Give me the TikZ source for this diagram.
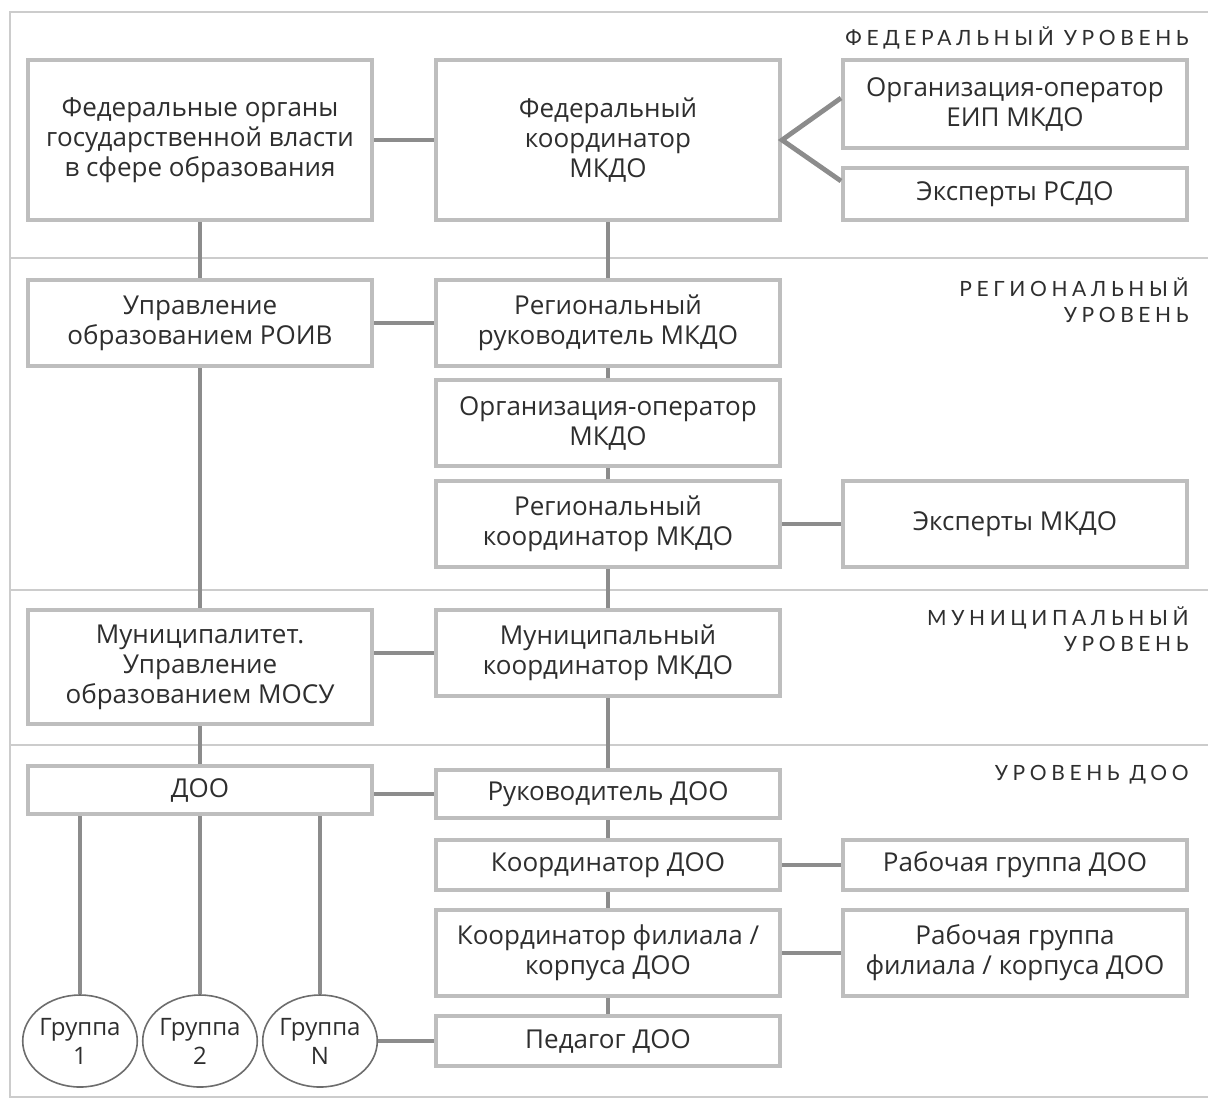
\documentclass[tikz,border=0pt]{standalone}
\usepackage{fontspec}
\setmainfont{Open Sans}
\newfontfamily\levelfont[LetterSpace=22]{Lato}
\usepackage{tikz}
\usetikzlibrary{positioning, shapes.geometric}
\usepackage{xcolor}
\definecolor{boxgrey}{HTML}{BEBEBE}
\definecolor{linkgrey}{HTML}{8C8C8C}
\definecolor{framegrey}{HTML}{CCCCCC}
\definecolor{inkgrey}{HTML}{2E2E2E}

\tikzset{
    unit/.style={draw=boxgrey, line width=2pt, fill=white, text=inkgrey,
        minimum width=172pt, inner sep=0pt, align=center,
        font=\fontsize{13}{15}\selectfont},
    group/.style={ellipse, draw=inkgrey!70, line width=0.8pt, fill=white,
        text=inkgrey, minimum width=54pt, minimum height=46pt, inner sep=0pt,
        align=center, font=\fontsize{12}{14.5}\selectfont},
    link/.style={draw=linkgrey, line width=2.4pt},
    levelname/.style={anchor=north east, align=right, text=inkgrey,
        font=\levelfont\fontsize{10.5}{13}\selectfont, inner sep=0pt}
}

\begin{document}
\begin{tikzpicture}[x=0.5pt, y=-0.5pt]
            \useasboundingbox (0,0) rectangle (1208,1100);

            % Рамка и границы уровней
            \draw[framegrey, line width=0.6pt] (1208,12) -- (10,12) -- (10,1097) -- (1208,1097);
            \foreach \yy in {258, 590, 745}
                \draw[framegrey, line width=0.6pt] (10,\yy) -- (1208,\yy);

            % Подписи уровней
            \node[levelname] (lvlfed) at (1189,26) {ФЕДЕРАЛЬНЫЙ УРОВЕНЬ};
            \node[levelname] (lvlreg) at (1189,277) {РЕГИОНАЛЬНЫЙ\\УРОВЕНЬ};
            \node[levelname] (lvlmun) at (1189,606) {МУНИЦИПАЛЬНЫЙ\\УРОВЕНЬ};
            \node[levelname] (lvldoo) at (1189,765) {УРОВЕНЬ ДОО};

            % Федеральный уровень
            \node[unit, minimum height=80pt] (fedorg) at (200,140) {Федеральные органы\\государственной власти\\в сфере образования};
            \node[unit, minimum height=80pt] (fedcoord) at (608,140) {Федеральный\\координатор\\МКДО};
            \node[unit, minimum height=44pt] (eipop) at (1015,104) {Организация-оператор\\ЕИП МКДО};
            \node[unit, minimum height=26pt] (rsdo) at (1015,194) {Эксперты РСДО};

            % Региональный уровень
            \node[unit, minimum height=43pt] (roiv) at (200,323) {Управление\\образованием РОИВ};
            \node[unit, minimum height=43pt] (regruk) at (608,323) {Региональный\\руководитель МКДО};
            \node[unit, minimum height=43pt] (regop) at (608,423) {Организация-оператор\\МКДО};
            \node[unit, minimum height=43pt] (regcoord) at (608,524) {Региональный\\координатор МКДО};
            \node[unit, minimum height=43pt] (mkdoexp) at (1015,524) {Эксперты МКДО};

            % Муниципальный уровень
            \node[unit, minimum height=57pt] (mosu) at (200,667) {Муниципалитет.\\Управление\\образованием МОСУ};
            \node[unit, minimum height=43pt] (muncoord) at (608,653) {Муниципальный\\координатор МКДО};

            % Уровень ДОО
            \node[unit, minimum height=24pt] (doo) at (200,790) {ДОО};
            \node[unit, minimum height=24pt] (dooruk) at (608,794) {Руководитель ДОО};
            \node[unit, minimum height=25pt] (doocoord) at (608,865) {Координатор ДОО};
            \node[unit, minimum height=25pt] (doowg) at (1015,865) {Рабочая группа ДОО};
            \node[unit, minimum height=43pt] (filcoord) at (608,953) {Координатор филиала /\\корпуса ДОО};
            \node[unit, minimum height=43pt] (filwg) at (1015,953) {Рабочая группа\\филиала / корпуса ДОО};
            \node[unit, minimum height=25pt] (pedagog) at (608,1041) {Педагог ДОО};

            % Группы
            \node[group] (grp1) at (80,1041) {Группа\\1};
            \node[group] (grp2) at (200,1041) {Группа\\2};
            \node[group] (grpN) at (320,1041) {Группа\\N};

            % Связи по горизонтали
            \draw[link] (fedorg) -- (fedcoord);
            \draw[link] ([yshift=3pt]eipop.west) -- (fedcoord.east) -- ([yshift=6.5pt]rsdo.west);
            \draw[link] (roiv) -- (regruk);
            \draw[link] (regcoord) -- (mkdoexp);
            \draw[link] (mosu.east |- muncoord) -- (muncoord);
            \draw[link] (doo.east |- dooruk) -- (dooruk);
            \draw[link] (doocoord) -- (doowg);
            \draw[link] (filcoord) -- (filwg);
            \draw[link] (grpN) -- (pedagog);

            % Связи по вертикали
            \draw[link] (fedorg) -- (roiv);
            \draw[link] (roiv) -- (mosu);
            \draw[link] (mosu) -- (doo);
            \draw[link] (fedcoord) -- (regruk);
            \draw[link] (regruk) -- (regop);
            \draw[link] (regop) -- (regcoord);
            \draw[link] (regcoord) -- (muncoord);
            \draw[link] (muncoord) -- (dooruk);
            \draw[link] (dooruk) -- (doocoord);
            \draw[link] (doocoord) -- (filcoord);
            \draw[link] (filcoord) -- (pedagog);
            \foreach \g in {grp1, grp2, grpN}
                \draw[link] (doo.south -| \g.north) -- (\g.north);
        \end{tikzpicture}
\end{document}
